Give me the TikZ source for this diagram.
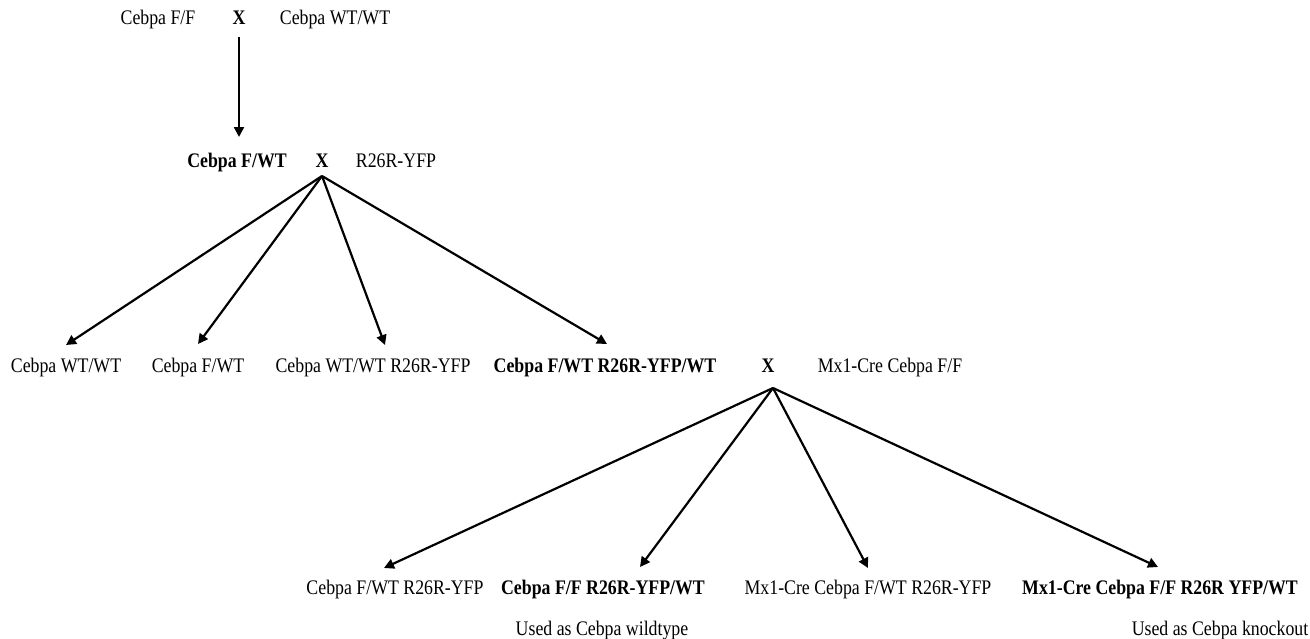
\documentclass[tikz,border=0pt]{standalone}
\usepackage{fontspec}
\setmainfont{Liberation Serif}[FakeStretch=0.86]
\usetikzlibrary{arrows.meta}
\begin{document}
\begin{tikzpicture}[x=1pt,y=-1pt,
  lbl/.style={inner sep=0pt,anchor=base,font=\fontsize{20.7}{24}\selectfont},
  blbl/.style={lbl,font=\fontsize{20.7}{24}\selectfont\bfseries},
  arr/.style={line width=2.2pt,-{Triangle[length=10pt,width=10pt]}}]
\useasboundingbox (0,0) rectangle (1310,638);
% row 1
\node[lbl] (a1) at (158,24) {Cebpa F/F};
\node[blbl] (x1) at (239,24) {X};
\node[lbl] (a2) at (335,24) {Cebpa WT/WT};
% row 2
\node[blbl] (b1) at (237,167) {Cebpa F/WT};
\node[blbl] (x2) at (322,167) {X};
\node[lbl] (b2) at (396,167) {R26R-YFP};
% row 3
\node[lbl] (c1) at (66,372) {Cebpa WT/WT};
\node[lbl] (c2) at (198,372) {Cebpa F/WT};
\node[lbl] (c3) at (373,372) {Cebpa WT/WT R26R-YFP};
\node[blbl] (c4) at (605,372) {Cebpa F/WT R26R-YFP/WT};
\node[blbl] (x3) at (768,372) {X};
\node[lbl] (c5) at (890,372) {Mx1-Cre Cebpa F/F};
% row 4
\node[lbl] (d1) at (395,594) {Cebpa F/WT R26R-YFP};
\node[blbl] (d2) at (603,594) {Cebpa F/F R26R-YFP/WT};
\node[lbl] (d3) at (868,594) {Mx1-Cre Cebpa F/WT R26R-YFP};
\node[blbl] (d4) at (1160,594) {Mx1-Cre Cebpa F/F R26R YFP/WT};
% row 5
\node[lbl] (e1) at (602,635) {Used as Cebpa wildtype};
\node[lbl] (e2) at (1220,635) {Used as Cebpa knockout};
% connectors
\coordinate (s1) at (239,37);
\coordinate (t1) at (239,137);
\draw[arr] (s1) -- (t1);
\coordinate (f1) at (322,176);
\coordinate (g1) at (66,345);
\coordinate (g2) at (198,344);
\coordinate (g3) at (385,345);
\coordinate (g4) at (607,344);
\foreach \g in {g1,g2,g3,g4} \draw[arr] (f1) -- (\g);
\coordinate (f2) at (773,388);
\coordinate (h1) at (384,568);
\coordinate (h2) at (640,567);
\coordinate (h3) at (868,568);
\coordinate (h4) at (1158,567);
\foreach \h in {h1,h2,h3,h4} \draw[arr] (f2) -- (\h);
\end{tikzpicture}
\end{document}
